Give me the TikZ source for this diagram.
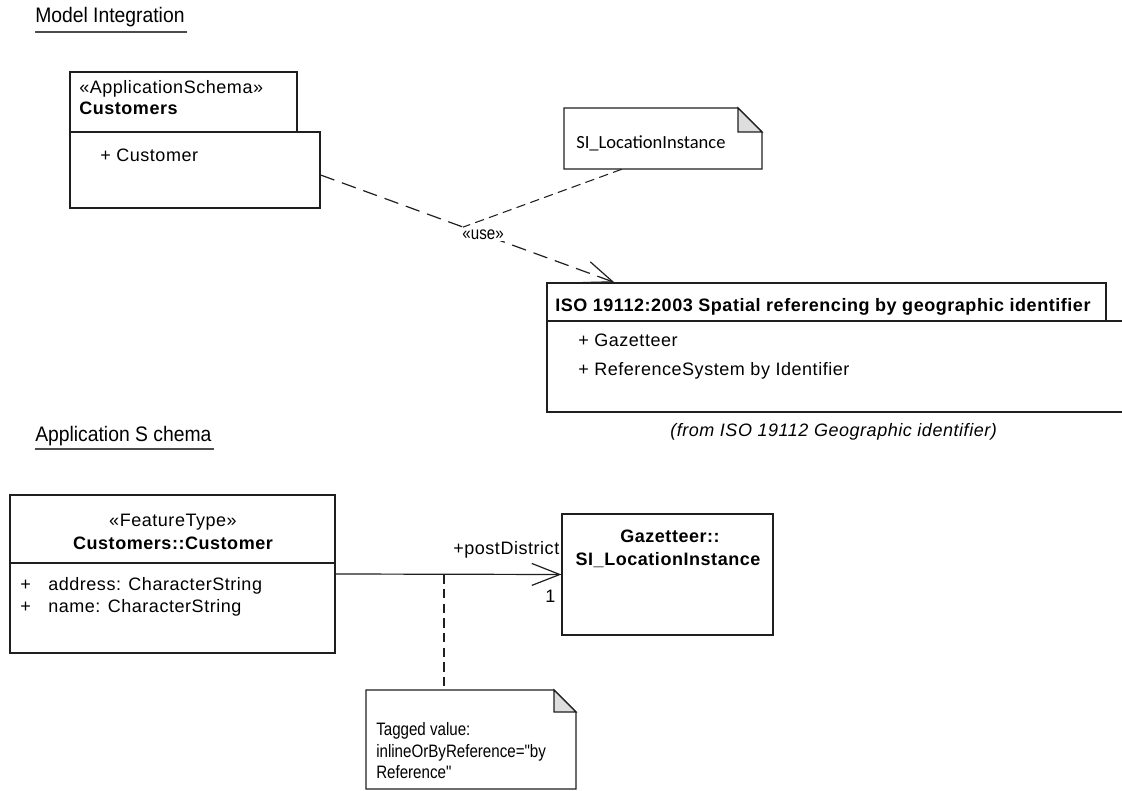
\documentclass[tikz,border=0pt]{standalone}
\usepackage{fontspec}
\setmainfont{Liberation Sans}
\newfontfamily\umlf[LetterSpace=3]{Liberation Sans}
\newfontfamily\narrowf[FakeStretch=0.84]{Liberation Sans}
\newfontfamily\headf[FakeStretch=0.92]{Liberation Sans}
\newfontfamily\notef{Carlito}
\usetikzlibrary{arrows.meta,calc,fit}
\newcommand\fa{\umlf\fontsize{13.5}{16}\selectfont}
\newcommand\fn{\narrowf\fontsize{13.5}{16}\selectfont}
\newcommand\fh{\headf\fontsize{15.75}{18}\selectfont}
\newcommand\fnote{\notef\fontsize{13.9}{16}\selectfont}
\begin{document}
\begin{tikzpicture}[x=0.75pt,y=-0.75pt,
  box/.style={draw=black!88, line width=0.9pt, inner sep=0pt},
  ghost/.style={inner sep=0pt},
  txt/.style={inner sep=0pt, anchor=base west},
  ctxt/.style={inner sep=0pt, anchor=base},
  dep/.style={draw=black!88, line width=0.9pt, dash pattern=on 11pt off 6pt},
  notelink/.style={draw=black!88, line width=0.8pt, dash pattern=on 7pt off 4pt},
  openarrow/.style={-{Straight Barb[length=21pt,width=16.5pt,line width=0.9pt]}},
  uline/.style={draw=black!70, line width=2.2pt},
  fold/.style={draw=black!88, line width=0.9pt, fill=black!13, line join=miter}
]
\useasboundingbox (0,0) rectangle (1122,791);

% ---------- headers
\node[txt] (hmi) at (35,23) {\fh Model Integration};
\draw[uline] (hmi.south west |- 0,32) coordinate (ul1a) -- (ul1a -| 187,0);
\node[txt] (has) at (35,442) {\fh Application S chema};
\draw[uline] (has.south west |- 0,449) coordinate (ul2a) -- (ul2a -| 214,0);

% ---------- Customers package
\node[box, fit={(70,72) (297,132)}] (ctab) {};
\node[box, fit={(70,132) (320,208)}] (cbody) {};
\node[txt] (cst) at (79,94) {\fa «ApplicationSchema»};
\node[txt] (cnm) at (79,115) {\fa\bfseries Customers};
\node[txt] (cit) at (100,162) {\fa + Customer};

% ---------- note SI_LocationInstance
\draw[box, fill=white] (564,108) -- (738,108) -- (762,132) -- (762,169) -- (564,169) -- cycle;
\draw[fold] (738,108) -- (738,132) -- (762,132) -- cycle;
\node[ghost, fit={(564,108) (762,169)}] (sinote) {};
\node[txt] (sitxt) at (576,149) {\fnote SI\_LocationInstance};

% ---------- ISO package
\node[box, fit={(547,283) (1106,321)}] (isotab) {};
\draw[box] (1128,321) -- (547,321) -- (547,412) -- (1128,412);
\node[ghost, fit={(547,321) (1122,412)}] (isobody) {};
\node[txt] (isot) at (555,312) {\fa\bfseries ISO 19112:2003 Spatial referencing by geographic identifier};
\node[txt] (iso1) at (578,347) {\fa + Gazetteer};
\node[txt] (iso2) at (578,376) {\fa + ReferenceSystem by Identifier};
\node[txt] (isofrom) at (670,437) {\fa\itshape (from ISO 19112 Geographic identifier)};

% ---------- dependency «use»
\coordinate (depstart) at ($(cbody.east)+(0,5)$);
\coordinate (deptip) at ($(isotab.north west)+(68,0)$);
\draw[dep, openarrow] (depstart) -- (deptip)
   coordinate[pos=0.485] (depmid)
   node[pos=0.553, fill=white, inner sep=1pt] (uselbl) {\fn «use»};
\draw[notelink] ($(sinote.south west)+(58,0)$) -- (depmid);

% ---------- class Customers::Customer
\node[box, fit={(10,495) (335,653)}] (cust) {};
\draw[box] (cust.west |- 0,563) -- (cust.east |- 0,563);
\node[ctxt] (cft) at (173,527) {\fa «FeatureType»};
\node[ctxt] (ccn) at (173,550) {\fa\bfseries Customers::Customer};
\node[txt] (cp1) at (20,591) {\fa +};
\node[txt] (ca1) at (48,591) {\fa address: CharacterString};
\node[txt] (cp2) at (20,613) {\fa +};
\node[txt] (ca2) at (48,613) {\fa name: CharacterString};

% ---------- class Gazetteer::SI_LocationInstance
\node[box, fit={(562,514) (773,635)}] (gaz) {};
\node[ctxt] (gz1) at (670,543) {\fa\bfseries Gazetteer::};
\node[ctxt] (gz2) at (668,566) {\fa\bfseries SI\_LocationInstance};

% ---------- association
\draw[draw=black!88, line width=0.9pt, openarrow] (cust.east) -- (gaz.west)
   coordinate[pos=0.48] (assocmid);
\node[txt] (role) at (453,555) {\fa +postDistrict};
\node[txt] (mult) at (545,603) {\fa 1};

% ---------- tagged value note
\draw[box, fill=white] (366,690) -- (554,690) -- (576,712) -- (576,789) -- (366,789) -- cycle;
\draw[fold] (554,690) -- (554,712) -- (576,712) -- cycle;
\node[ghost, fit={(366,690) (576,789)}] (tvnote) {};
\node[txt] (tv1) at (376,735) {\fn Tagged value:};
\node[txt] (tv2) at (376,757) {\fn inlineOrByReference="by};
\node[txt] (tv3) at (376,778) {\fn Reference"};
\draw[notelink] (assocmid) -- (assocmid |- tvnote.north);
\end{tikzpicture}
\end{document}
